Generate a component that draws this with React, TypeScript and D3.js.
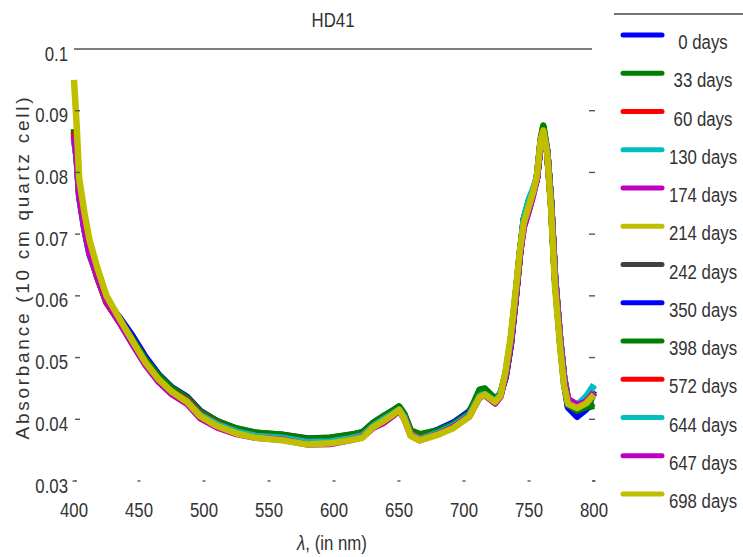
import React from 'react';
import * as d3 from 'd3';

const WAVELENGTHS = [400,402,404,408,412,418,425,435,445,455,465,475,487,497,510,525,540,560,580,597,612,622,630,638,645,650,654,659,666,680,692,704,712,716,724,728,732,736,740,743,746,750,753,756,759,761,764,767,770,774,777,780,787,794,800];

const ABS_0_DAYS = [0.0865,0.0833,0.0768,0.0713,0.0672,0.0631,0.0592,0.0565,0.0535,0.0501,0.0473,0.0452,0.0436,0.0413,0.0396,0.0383,0.0376,0.0371,0.0366,0.0367,0.0371,0.0376,0.0390,0.0401,0.0410,0.0417,0.0406,0.0379,0.0372,0.0382,0.0394,0.0413,0.0439,0.0442,0.0432,0.0440,0.0468,0.0520,0.0600,0.0666,0.0724,0.0754,0.0769,0.0789,0.0846,0.0866,0.0834,0.0752,0.0633,0.0529,0.0467,0.0421,0.0406,0.0420,0.0446];
const ABS_33_DAYS = [0.0870,0.0836,0.0770,0.0715,0.0674,0.0633,0.0592,0.0562,0.0531,0.0498,0.0471,0.0451,0.0435,0.0412,0.0397,0.0384,0.0377,0.0374,0.0368,0.0369,0.0374,0.0379,0.0393,0.0404,0.0413,0.0420,0.0408,0.0381,0.0374,0.0381,0.0393,0.0410,0.0446,0.0449,0.0433,0.0441,0.0470,0.0523,0.0602,0.0668,0.0721,0.0750,0.0767,0.0791,0.0854,0.0876,0.0836,0.0750,0.0629,0.0527,0.0465,0.0423,0.0412,0.0418,0.0422];
const ABS_60_DAYS = [0.0862,0.0830,0.0766,0.0711,0.0670,0.0634,0.0592,0.0560,0.0525,0.0491,0.0463,0.0444,0.0430,0.0408,0.0393,0.0379,0.0373,0.0368,0.0362,0.0362,0.0368,0.0373,0.0388,0.0399,0.0408,0.0415,0.0403,0.0376,0.0368,0.0376,0.0388,0.0405,0.0436,0.0440,0.0426,0.0437,0.0472,0.0525,0.0604,0.0668,0.0720,0.0749,0.0766,0.0790,0.0849,0.0866,0.0832,0.0748,0.0627,0.0525,0.0463,0.0427,0.0422,0.0434,0.0444];
const ABS_130_DAYS = [0.0855,0.0823,0.0760,0.0707,0.0666,0.0632,0.0590,0.0558,0.0523,0.0489,0.0463,0.0443,0.0428,0.0407,0.0392,0.0381,0.0373,0.0370,0.0364,0.0365,0.0369,0.0374,0.0389,0.0400,0.0409,0.0416,0.0404,0.0377,0.0369,0.0379,0.0391,0.0408,0.0438,0.0441,0.0429,0.0440,0.0474,0.0527,0.0606,0.0670,0.0724,0.0756,0.0771,0.0791,0.0848,0.0865,0.0834,0.0752,0.0631,0.0529,0.0469,0.0431,0.0422,0.0436,0.0455];
const ABS_174_DAYS = [0.0860,0.0826,0.0763,0.0709,0.0668,0.0633,0.0591,0.0558,0.0523,0.0489,0.0462,0.0442,0.0426,0.0403,0.0388,0.0377,0.0371,0.0368,0.0360,0.0361,0.0367,0.0372,0.0387,0.0395,0.0406,0.0415,0.0402,0.0375,0.0367,0.0377,0.0389,0.0406,0.0437,0.0440,0.0427,0.0438,0.0473,0.0526,0.0604,0.0668,0.0712,0.0740,0.0763,0.0790,0.0848,0.0865,0.0833,0.0750,0.0629,0.0527,0.0467,0.0433,0.0424,0.0430,0.0444];
const ABS_214_DAYS = [0.0865,0.0832,0.0768,0.0713,0.0672,0.0631,0.0590,0.0558,0.0525,0.0491,0.0465,0.0445,0.0429,0.0407,0.0391,0.0379,0.0372,0.0369,0.0362,0.0363,0.0368,0.0373,0.0388,0.0399,0.0408,0.0416,0.0403,0.0375,0.0368,0.0377,0.0389,0.0406,0.0437,0.0441,0.0428,0.0438,0.0474,0.0529,0.0607,0.0671,0.0721,0.0750,0.0768,0.0791,0.0849,0.0867,0.0832,0.0746,0.0623,0.0522,0.0461,0.0427,0.0420,0.0429,0.0444];
const ABS_242_DAYS = [0.0870,0.0834,0.0768,0.0711,0.0670,0.0629,0.0589,0.0558,0.0527,0.0495,0.0469,0.0450,0.0434,0.0411,0.0396,0.0385,0.0378,0.0375,0.0369,0.0370,0.0374,0.0379,0.0394,0.0405,0.0413,0.0420,0.0408,0.0381,0.0373,0.0381,0.0392,0.0409,0.0439,0.0442,0.0431,0.0440,0.0472,0.0526,0.0605,0.0669,0.0722,0.0752,0.0770,0.0789,0.0847,0.0866,0.0833,0.0749,0.0628,0.0527,0.0467,0.0431,0.0421,0.0428,0.0442];
const ABS_350_DAYS = [0.0866,0.0834,0.0769,0.0714,0.0673,0.0632,0.0592,0.0564,0.0534,0.0500,0.0472,0.0452,0.0436,0.0414,0.0397,0.0384,0.0377,0.0372,0.0366,0.0369,0.0372,0.0375,0.0391,0.0402,0.0411,0.0418,0.0405,0.0379,0.0373,0.0383,0.0395,0.0412,0.0440,0.0443,0.0433,0.0441,0.0468,0.0521,0.0601,0.0667,0.0725,0.0754,0.0769,0.0789,0.0847,0.0866,0.0833,0.0750,0.0629,0.0523,0.0457,0.0419,0.0404,0.0416,0.0442];
const ABS_398_DAYS = [0.0868,0.0835,0.0769,0.0714,0.0673,0.0632,0.0591,0.0561,0.0530,0.0497,0.0471,0.0451,0.0435,0.0413,0.0397,0.0385,0.0378,0.0375,0.0368,0.0370,0.0375,0.0378,0.0394,0.0405,0.0414,0.0421,0.0409,0.0382,0.0376,0.0382,0.0393,0.0410,0.0448,0.0450,0.0433,0.0442,0.0471,0.0524,0.0603,0.0668,0.0721,0.0751,0.0768,0.0790,0.0853,0.0874,0.0835,0.0749,0.0627,0.0525,0.0463,0.0423,0.0414,0.0420,0.0426];
const ABS_572_DAYS = [0.0864,0.0831,0.0767,0.0712,0.0671,0.0630,0.0589,0.0558,0.0525,0.0491,0.0464,0.0445,0.0431,0.0409,0.0393,0.0380,0.0373,0.0370,0.0363,0.0364,0.0369,0.0374,0.0389,0.0400,0.0409,0.0416,0.0404,0.0377,0.0369,0.0377,0.0389,0.0406,0.0437,0.0441,0.0428,0.0439,0.0473,0.0527,0.0605,0.0669,0.0721,0.0750,0.0767,0.0790,0.0849,0.0867,0.0833,0.0749,0.0628,0.0526,0.0465,0.0429,0.0423,0.0432,0.0443];
const ABS_644_DAYS = [0.0857,0.0824,0.0761,0.0708,0.0667,0.0633,0.0591,0.0559,0.0523,0.0490,0.0464,0.0444,0.0429,0.0407,0.0392,0.0380,0.0373,0.0370,0.0363,0.0364,0.0369,0.0374,0.0389,0.0400,0.0409,0.0416,0.0404,0.0376,0.0368,0.0378,0.0390,0.0407,0.0438,0.0441,0.0429,0.0440,0.0475,0.0528,0.0607,0.0671,0.0725,0.0757,0.0772,0.0792,0.0849,0.0866,0.0835,0.0752,0.0631,0.0529,0.0468,0.0432,0.0423,0.0437,0.0456];
const ABS_647_DAYS = [0.0859,0.0825,0.0762,0.0708,0.0667,0.0632,0.0590,0.0557,0.0522,0.0488,0.0461,0.0441,0.0425,0.0402,0.0387,0.0376,0.0370,0.0367,0.0359,0.0360,0.0366,0.0371,0.0386,0.0394,0.0405,0.0414,0.0401,0.0374,0.0366,0.0376,0.0388,0.0405,0.0436,0.0439,0.0426,0.0437,0.0472,0.0525,0.0603,0.0667,0.0711,0.0739,0.0762,0.0789,0.0847,0.0864,0.0832,0.0749,0.0628,0.0526,0.0466,0.0432,0.0423,0.0429,0.0443];
const ABS_698_DAYS = [0.0950,0.0878,0.0790,0.0735,0.0690,0.0645,0.0600,0.0563,0.0527,0.0492,0.0465,0.0445,0.0428,0.0405,0.0389,0.0377,0.0370,0.0366,0.0359,0.0361,0.0366,0.0370,0.0387,0.0397,0.0407,0.0415,0.0401,0.0373,0.0366,0.0375,0.0386,0.0404,0.0436,0.0440,0.0428,0.0438,0.0478,0.0535,0.0612,0.0674,0.0718,0.0746,0.0767,0.0793,0.0852,0.0868,0.0830,0.0740,0.0615,0.0515,0.0455,0.0425,0.0418,0.0426,0.0440];

const SERIES_VALUES = [ABS_0_DAYS, ABS_33_DAYS, ABS_60_DAYS, ABS_130_DAYS, ABS_174_DAYS, ABS_214_DAYS, ABS_242_DAYS, ABS_350_DAYS, ABS_398_DAYS, ABS_572_DAYS, ABS_644_DAYS, ABS_647_DAYS, ABS_698_DAYS];
const SERIES_LABELS = ["0 days", "33 days", "60 days", "130 days", "174 days", "214 days", "242 days", "350 days", "398 days", "572 days", "644 days", "647 days", "698 days"];
const SERIES_COLORS = ["#0000ff", "#008000", "#ff0000", "#00bfbf", "#bf00bf", "#bfbf00", "#404040", "#0000ff", "#008000", "#ff0000", "#00bfbf", "#bf00bf", "#bfbf00"];

const X_TICKS = [400, 450, 500, 550, 600, 650, 700, 750, 800];
const Y_TICKS = [0.03, 0.04, 0.05, 0.06, 0.07, 0.08, 0.09, 0.1];
const Y_TICK_LABELS = ["0.03", "0.04", "0.05", "0.06", "0.07", "0.08", "0.09", "0.1"];
const TITLE = "HD41";
const X_LABEL = "λ, (in nm)";
const Y_LABEL = "Absorbance (10 cm quartz cell)";

export default function App() {
  const W = 743, H = 557;
  const x = d3.scaleLinear().domain([400, 800]).range([74, 594]);
  const y = d3.scaleLinear().domain([0.03, 0.1]).range([481, 49]);
  const line = d3.line<number>().x((_, i) => x(WAVELENGTHS[i])).y(d => y(d));
  const font = "'Liberation Sans', Arial, sans-serif";
  const tc = "#333";
  const sx = 0.8;
  const fs = 21;
  const legendY = (i: number) => 35 + i * 38.25;

  return (
    <svg width={W} height={H} viewBox={`0 0 ${W} ${H}`} style={{ position: 'absolute', left: 0, top: 0, display: 'block' }} fontFamily={font}>
      <rect x={0} y={0} width={W} height={H} fill="#fff" />
      <line x1={x(400)} x2={592} y1={y(0.1)} y2={y(0.1)} stroke="#555" strokeWidth={1.6} />
      {SERIES_VALUES.map((vals, i) => (
        <path key={i} d={line(vals) || ''} fill="none" stroke={SERIES_COLORS[i]} strokeWidth={6.5} strokeLinejoin="round" />
      ))}
      {Y_TICKS.slice(0, -1).map((t, i) => (
        <g key={'yt' + i}>
          <line x1={75} x2={i === 0 ? 77 : 80} y1={y(t)} y2={y(t)} stroke="#555" strokeWidth={1.4} />
          <line x1={i === 0 ? 592 : 589} x2={595} y1={y(t)} y2={y(t)} stroke="#555" strokeWidth={1.4} />
        </g>
      ))}
      {X_TICKS.map((t, i) => (
        <line key={'xt' + i} x1={x(t) - 1.5} x2={x(t) + 1.5} y1={481} y2={481} stroke="#555" strokeWidth={1.4} />
      ))}
      {Y_TICKS.map((t, i) => (
        <text key={'yl' + i} transform={`translate(68,${y(t) + 11.5}) scale(${sx},1)`} textAnchor="end" fontSize={fs} fill={tc}>{Y_TICK_LABELS[i]}</text>
      ))}
      {X_TICKS.map((t, i) => (
        <text key={'xl' + i} transform={`translate(${x(t)},517) scale(${sx},1)`} textAnchor="middle" fontSize={fs} fill={tc}>{t}</text>
      ))}
      <text transform={`translate(333,27) scale(${sx},1)`} textAnchor="middle" fontSize={fs} fill={tc}>{TITLE}</text>
      <text transform={`translate(332,550) scale(${sx},1)`} textAnchor="middle" fontSize={fs} fill={tc}>
        <tspan fontStyle="italic">{X_LABEL.slice(0, 1)}</tspan>{X_LABEL.slice(1)}
      </text>
      <text transform="translate(29,268.5) rotate(-90)" textAnchor="middle" fontSize={19} fill={tc} textLength={342} lengthAdjust="spacing">{Y_LABEL}</text>
      <line x1={614} x2={743} y1={14} y2={14} stroke="#444" strokeWidth={1.3} />
      {SERIES_LABELS.map((lab, i) => (
        <g key={'lg' + i}>
          <line x1={623} x2={662} y1={legendY(i)} y2={legendY(i)} stroke={SERIES_COLORS[i]} strokeWidth={5} strokeLinecap="round" />
          <text transform={`translate(703,${legendY(i) + 14}) scale(${sx},1)`} textAnchor="middle" fontSize={fs} fill={tc}>{lab}</text>
        </g>
      ))}
    </svg>
  );
}
